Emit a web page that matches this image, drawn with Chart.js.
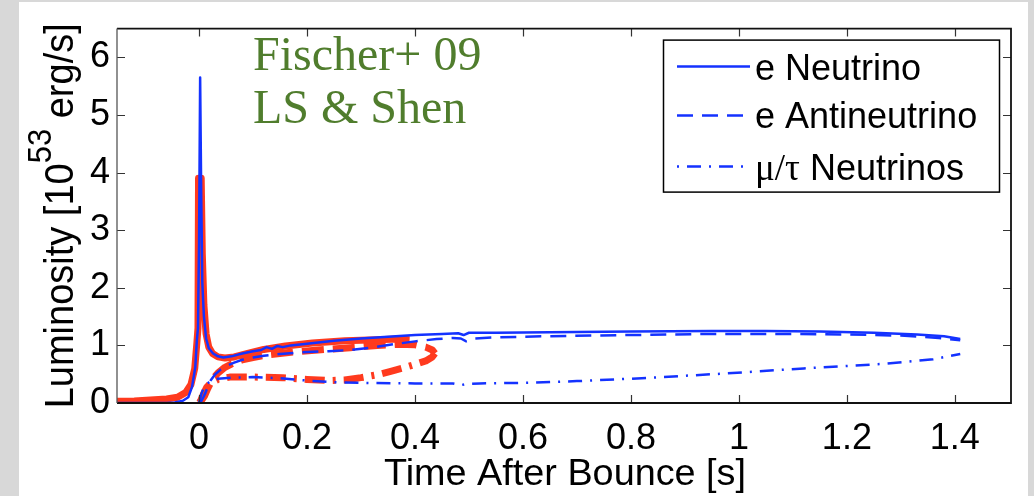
<!DOCTYPE html>
<html><head><meta charset="utf-8">
<script src="https://cdn.jsdelivr.net/npm/chart.js@4.4.0/dist/chart.umd.min.js"></script>
<style>html,body{margin:0;padding:0;background:#d8d8d8;}canvas{display:block;}</style>
</head><body>
<canvas id="c" width="1034" height="496"></canvas>
<script>
// ---- tick labels ----
const xTickValues = [0, 0.2, 0.4, 0.6, 0.8, 1, 1.2, 1.4];
const yTickValues = [0, 1, 2, 3, 4, 5, 6];
const legendNames = ['e Neutrino', 'e Antineutrino', 'μ/τ Neutrinos'];
const annotationLines = ['Fischer+ 09', 'LS & Shen'];

// ---- blue model: e neutrino ----
const blueNuE_t = [-0.152, -0.06, -0.045, -0.03, -0.02, -0.013, -0.007, -0.004, -0.002, 0.0, 0.002, 0.004, 0.006, 0.009, 0.013, 0.018, 0.026, 0.035, 0.045, 0.06, 0.08, 0.1, 0.115, 0.125, 0.135, 0.145, 0.155, 0.17, 0.2, 0.25, 0.3, 0.35, 0.4, 0.45, 0.48, 0.49, 0.5, 0.55, 0.65, 0.8, 0.95, 1.05, 1.15, 1.25, 1.33, 1.38, 1.41];
const blueNuE_L = [0, 0, 0.01, 0.04, 0.1, 0.28, 0.62, 1.1, 1.3, 2.8, 5.65, 3.6, 2.1, 1.5, 1.12, 0.95, 0.86, 0.81, 0.79, 0.81, 0.86, 0.9, 0.92, 0.97, 0.94, 0.99, 0.97, 1.0, 1.03, 1.08, 1.12, 1.15, 1.18, 1.2, 1.21, 1.18, 1.22, 1.22, 1.23, 1.24, 1.25, 1.25, 1.24, 1.22, 1.19, 1.16, 1.11];
// ---- blue model: e antineutrino ----
const blueNuEbar_t = [0.0, 0.004, 0.008, 0.012, 0.016, 0.022, 0.03, 0.04, 0.05, 0.065, 0.08, 0.1, 0.12, 0.15, 0.19, 0.24, 0.28, 0.32, 0.36, 0.4, 0.44, 0.47, 0.485, 0.495, 0.51, 0.55, 0.65, 0.8, 0.95, 1.1, 1.2, 1.3, 1.37, 1.41];
const blueNuEbar_L = [0.0, 0.03, 0.1, 0.18, 0.28, 0.4, 0.5, 0.58, 0.64, 0.7, 0.75, 0.79, 0.82, 0.85, 0.88, 0.9, 0.92, 0.96, 1.02, 1.07, 1.11, 1.13, 1.12, 1.07, 1.12, 1.14, 1.16, 1.18, 1.2, 1.2, 1.19, 1.17, 1.13, 1.09];
// ---- blue model: mu/tau neutrinos ----
const blueNuX_t = [0.0, 0.004, 0.008, 0.014, 0.022, 0.035, 0.06, 0.1, 0.15, 0.2, 0.25, 0.3, 0.4, 0.47, 0.485, 0.495, 0.52, 0.6, 0.7, 0.82, 0.97, 1.12, 1.27, 1.36, 1.41];
const blueNuX_L = [0.0, 0.15, 0.25, 0.33, 0.38, 0.42, 0.44, 0.45, 0.43, 0.39, 0.36, 0.35, 0.34, 0.34, 0.31, 0.33, 0.34, 0.35, 0.38, 0.43, 0.51, 0.6, 0.68, 0.76, 0.85];

// ---- red model: e neutrino ----
const redNuE_t = [-0.152, -0.12, -0.09, -0.06, -0.04, -0.025, -0.015, -0.008, -0.004, -0.002, -0.001, 0.004, 0.006, 0.009, 0.013, 0.018, 0.025, 0.035, 0.048, 0.065, 0.09, 0.12, 0.16, 0.21, 0.27, 0.33, 0.37, 0.39];
const redNuE_L = [0.03, 0.035, 0.05, 0.07, 0.1, 0.18, 0.32, 0.6, 1.05, 1.3, 3.9, 3.9, 2.6, 1.7, 1.2, 0.97, 0.86, 0.8, 0.78, 0.8, 0.86, 0.93, 0.99, 1.04, 1.08, 1.1, 1.11, 1.1];
// ---- red model: e antineutrino ----
const redNuEbar_t = [0.0, 0.005, 0.01, 0.016, 0.024, 0.035, 0.048, 0.063, 0.08, 0.1, 0.13, 0.17, 0.22, 0.28, 0.33, 0.37, 0.4, 0.42, 0.432, 0.437];
const redNuEbar_L = [0.0, 0.05, 0.12, 0.25, 0.4, 0.52, 0.62, 0.69, 0.75, 0.79, 0.84, 0.88, 0.92, 0.96, 1.0, 1.02, 1.01, 0.97, 0.92, 0.86];
// ---- red model: mu/tau neutrinos ----
const redNuX_t = [0.002, 0.008, 0.014, 0.022, 0.035, 0.057, 0.1, 0.155, 0.2, 0.24, 0.27, 0.3, 0.33, 0.355, 0.375, 0.4, 0.42, 0.432, 0.437];
const redNuX_L = [0.02, 0.15, 0.27, 0.35, 0.41, 0.45, 0.45, 0.44, 0.41, 0.39, 0.4, 0.44, 0.49, 0.55, 0.6, 0.67, 0.73, 0.8, 0.86];

const BLUE = 'rgb(20,50,255)';
const RED = 'rgb(255,58,30)';
const GREEN = '#507d2d';
const SANS = '"Liberation Sans", Arial, Helvetica, sans-serif';
const SERIF = '"Liberation Serif", "Times New Roman", serif';

function ds(label, t, L, color, width, dash) {
  return {
    label: label,
    data: t.map((x, i) => ({ x: x, y: L[i] })),
    borderColor: color, backgroundColor: color,
    borderWidth: width, borderDash: dash,
    pointRadius: 0, fill: false, tension: 0,
    borderCapStyle: 'butt', borderJoinStyle: 'round'
  };
}

const BLUE_DASH = [16, 9];
const BLUE_DASHDOT = [14, 8, 2, 8];
const RED_DASH = [22, 9];
const RED_DASHDOT = [20, 8, 3, 8];

const datasets = [
  ds(legendNames[0], blueNuE_t, blueNuE_L, BLUE, 2.5, []),
  ds(legendNames[1], blueNuEbar_t, blueNuEbar_L, BLUE, 2.5, BLUE_DASH),
  ds(legendNames[2], blueNuX_t, blueNuX_L, BLUE, 2.5, BLUE_DASHDOT),
  ds('red ' + legendNames[0], redNuE_t, redNuE_L, RED, 7, []),
  ds('red ' + legendNames[1], redNuEbar_t, redNuEbar_L, RED, 7, RED_DASH),
  ds('red ' + legendNames[2], redNuX_t, redNuX_L, RED, 7, RED_DASHDOT)
];

const bgPlugin = {
  id: 'bg',
  beforeDraw(chart) {
    const ctx = chart.ctx;
    ctx.save();
    ctx.fillStyle = '#d8d8d8';
    ctx.fillRect(0, 0, chart.width, chart.height);
    ctx.fillStyle = '#ffffff';
    ctx.fillRect(19, 2, 1009, chart.height - 2);
    ctx.restore();
  }
};

const framePlugin = {
  id: 'frame',
  afterDatasetsDraw(chart) {
    const ctx = chart.ctx, a = chart.chartArea;
    const xs = chart.scales.x, ys = chart.scales.y;
    ctx.save();
    ctx.strokeStyle = '#333';
    ctx.lineWidth = 1.2;
    ctx.beginPath();
    xTickValues.forEach(v => {
      const px = Math.round(xs.getPixelForValue(v)) + 0.5;
      ctx.moveTo(px, a.bottom); ctx.lineTo(px, a.bottom - 8);
      ctx.moveTo(px, a.top); ctx.lineTo(px, a.top + 8);
    });
    yTickValues.forEach(v => {
      const py = Math.round(ys.getPixelForValue(v)) + 0.5;
      ctx.moveTo(a.left, py); ctx.lineTo(a.left + 8, py);
      ctx.moveTo(a.right, py); ctx.lineTo(a.right - 8, py);
    });
    ctx.stroke();
    ctx.strokeStyle = '#111';
    ctx.lineWidth = 1.8;
    ctx.beginPath();
    ctx.moveTo(a.left, a.top); ctx.lineTo(a.right, a.top); ctx.lineTo(a.right, a.bottom); ctx.lineTo(a.left, a.bottom);
    ctx.stroke();
    ctx.strokeStyle = '#555';
    ctx.lineWidth = 1.3;
    ctx.beginPath();
    ctx.moveTo(a.left, a.top); ctx.lineTo(a.left, a.bottom);
    ctx.stroke();
    ctx.restore();
  }
};

const textPlugin = {
  id: 'texts',
  afterDraw(chart) {
    const ctx = chart.ctx, a = chart.chartArea;
    ctx.save();
    ctx.fillStyle = GREEN;
    ctx.font = '48px ' + SERIF;
    ctx.textAlign = 'left';
    ctx.textBaseline = 'alphabetic';
    ctx.fillText(annotationLines[0], a.left + 136, a.top + 41);
    ctx.fillText(annotationLines[1], a.left + 136, a.top + 94);

    // legend
    const lx = a.right - 348, ly = a.top + 11, lw = 336, lh = 152;
    ctx.fillStyle = '#fff';
    ctx.fillRect(lx, ly, lw, lh);
    ctx.strokeStyle = '#000';
    ctx.lineWidth = 1.5;
    ctx.strokeRect(lx + 0.5, ly + 0.5, lw, lh);
    const rowsY = [27, 76, 127];
    const baseY = [40, 88, 140];
    const dashes = [[], BLUE_DASH, [2, 8, 14, 8]];
    for (let i = 0; i < 3; i++) {
      ctx.strokeStyle = BLUE;
      ctx.lineWidth = 2.5;
      ctx.setLineDash(dashes[i]);
      ctx.beginPath();
      ctx.moveTo(lx + 14, ly + rowsY[i]);
      ctx.lineTo(lx + 87, ly + rowsY[i]);
      ctx.stroke();
      ctx.setLineDash([]);
      ctx.fillStyle = '#000';
      const name = legendNames[i];
      if (name.indexOf('μ/τ') === 0) {
        ctx.font = '37px ' + SERIF;
        ctx.fillText('μ/τ', lx + 92, ly + baseY[i]);
        const wg = ctx.measureText('μ/τ').width;
        ctx.font = '36px ' + SANS;
        ctx.fillText(name.slice(3), lx + 92 + wg, ly + baseY[i]);
      } else {
        ctx.font = '36px ' + SANS;
        ctx.fillText(name, lx + 92, ly + baseY[i]);
      }
    }

    // x axis title
    ctx.fillStyle = '#000';
    ctx.font = '36px ' + SANS;
    ctx.textAlign = 'center';
    ctx.textBaseline = 'alphabetic';
    ctx.save();
    ctx.translate((a.left + a.right) / 2 + 1, 485);
    ctx.scale(1.05, 1);
    ctx.fillText('Time After Bounce [s]', 0, 0);
    ctx.restore();

    // y axis title with superscript
    const mainF = '38px ' + SANS, supF = '31px ' + SANS;
    const p1 = 'Luminosity [10', sup = '53', p2 = ' erg/s]';
    ctx.font = mainF; const w1 = ctx.measureText(p1).width, w3 = ctx.measureText(p2).width;
    ctx.font = supF; const w2 = ctx.measureText(sup).width;
    const W = w1 + w2 + w3;
    ctx.save();
    ctx.translate(73, (a.top + a.bottom) / 2);
    ctx.rotate(-Math.PI / 2);
    ctx.scale(1, 1.08);
    ctx.textAlign = 'left';
    const x0 = -W / 2;
    ctx.font = mainF; ctx.fillText(p1, x0, 0);
    ctx.font = supF; ctx.fillText(sup, x0 + w1, -20);
    ctx.font = mainF; ctx.fillText(p2, x0 + w1 + w2, 0);
    ctx.restore();
    ctx.restore();
  }
};

new Chart(document.getElementById('c'), {
  type: 'line',
  data: { datasets: datasets },
  plugins: [bgPlugin, framePlugin, textPlugin],
  options: {
    responsive: false, animation: false, devicePixelRatio: 1,
    layout: { padding: { left: 0, top: 24, right: 23, bottom: 0 } },
    plugins: { legend: { display: false }, tooltip: { enabled: false } },
    scales: {
      x: {
        type: 'linear', min: -0.152, max: 1.504,
        grid: { display: false, drawTicks: false }, border: { display: false },
        afterBuildTicks: s => { s.ticks = xTickValues.map(v => ({ value: v })); },
        afterFit: s => { s.height = 93; },
        ticks: { font: { family: SANS, size: 36 }, color: '#000', padding: 14, maxRotation: 0, autoSkip: false, callback: v => String(v) }
      },
      y: {
        type: 'linear', min: 0, max: 6.5,
        grid: { display: false, drawTicks: false }, border: { display: false },
        afterBuildTicks: s => { s.ticks = yTickValues.map(v => ({ value: v })); },
        afterFit: s => { s.width = 117; },
        ticks: { font: { family: SANS, size: 36 }, color: '#000', padding: 7, autoSkip: false, callback: v => String(v) }
      }
    }
  }
});
</script>
</body></html>
